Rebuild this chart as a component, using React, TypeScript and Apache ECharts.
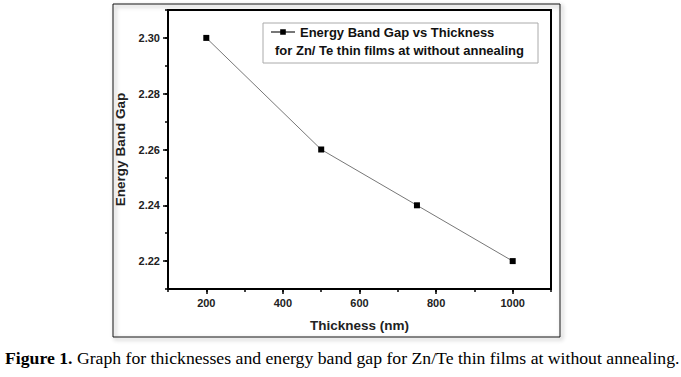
import React, { useEffect, useRef } from "react";
import * as echarts from "echarts";

const thickness = [200, 500, 750, 1000];
const bandGap = [2.3, 2.26, 2.24, 2.22];
const xMajorTicks = [200, 400, 600, 800, 1000];
const yMajorTicks = [2.22, 2.24, 2.26, 2.28, 2.3];
const seriesName = "Energy Band Gap vs Thickness";
const legendLine2 = "for Zn/ Te thin films at without annealing";
const captionBold = "Figure 1.";
const captionRest = " Graph for thicknesses and energy band gap for Zn/Te thin films at without annealing.";

export default function App() {
  const ref = useRef<HTMLDivElement>(null);
  useEffect(() => {
    if (!ref.current) return;
    const chart = echarts.init(ref.current, null, { renderer: "svg" });
    const sans = "Liberation Sans";
    const tickLabelStyle = { fontFamily: sans, fontWeight: "bold", fontSize: 11, color: "#222" };
    chart.setOption({
      animation: false,
      backgroundColor: "#fff",
      grid: { left: 168, right: 130, top: 10, bottom: 88, show: true, borderColor: "#000", borderWidth: 2, backgroundColor: "transparent" },
      legend: {
        left: 270,
        top: 25,
        padding: 0,
        itemWidth: 24,
        itemHeight: 7,
        itemGap: 4,
        data: [seriesName],
        textStyle: { fontFamily: sans, fontWeight: "bold", fontSize: 13, lineHeight: 14, color: "#111" },
      },
      xAxis: [
        {
          type: "value",
          min: 100,
          max: 1100,
          interval: 100,
          name: "Thickness (nm)",
          nameLocation: "middle",
          nameGap: 29,
          nameTextStyle: { fontFamily: sans, fontWeight: "bold", fontSize: 13.5, color: "#222" },
          axisLine: { show: true, lineStyle: { color: "#000", width: 2 } },
          axisTick: { show: true, length: 3, lineStyle: { color: "#000", width: 1.5 } },
          axisLabel: {
            ...tickLabelStyle,
            margin: 8,
            formatter: (v: number) => (xMajorTicks.indexOf(Math.round(v)) >= 0 ? String(Math.round(v)) : ""),
          },
          splitLine: { show: false },
        },
        {
          type: "value",
          min: 100,
          max: 1100,
          position: "bottom",
          axisLine: { show: false },
          axisTick: { show: true, length: 5, customValues: xMajorTicks, lineStyle: { color: "#000", width: 1.5 } },
          axisLabel: { show: false },
          splitLine: { show: false },
        },
      ],
      yAxis: [
        {
          type: "value",
          min: 2.21,
          max: 2.31,
          interval: 0.01,
          name: "Energy Band Gap",
          nameLocation: "middle",
          nameGap: 41,
          nameTextStyle: { fontFamily: sans, fontWeight: "bold", fontSize: 13.5, color: "#222" },
          axisLine: { show: true, lineStyle: { color: "#000", width: 2 } },
          axisTick: { show: true, length: 3, lineStyle: { color: "#000", width: 1.5 } },
          axisLabel: {
            ...tickLabelStyle,
            margin: 8,
            formatter: (v: number) => {
              const k = Math.round(v * 100);
              return k % 2 === 0 && k >= 222 && k <= 230 ? (k / 100).toFixed(2) : "";
            },
          },
          splitLine: { show: false },
        },
        {
          type: "value",
          min: 2.21,
          max: 2.31,
          position: "left",
          axisLine: { show: false },
          axisTick: { show: true, length: 5, customValues: yMajorTicks, lineStyle: { color: "#000", width: 1.5 } },
          axisLabel: { show: false },
          splitLine: { show: false },
        },
      ],
      series: [
        {
          name: seriesName,
          type: "line",
          data: thickness.map((x, i) => [x, bandGap[i]]),
          symbol: "rect",
          symbolSize: 6,
          itemStyle: { color: "#000" },
          lineStyle: { color: "#777", width: 1 },
        },
      ],
      graphic: [
        {
          type: "rect",
          z: -10,
          shape: { x: 113, y: 4, width: 447, height: 333 },
          style: { fill: "none", stroke: "#111", lineWidth: 1, shadowBlur: 4, shadowOffsetX: 2, shadowOffsetY: 2, shadowColor: "rgba(0,0,0,0.45)" },
        },
        {
          type: "rect",
          shape: { x: 263, y: 23, width: 275, height: 40 },
          style: { fill: "none", stroke: "#aaa", lineWidth: 1 },
        },
        {
          type: "text",
          x: 275,
          y: 50,
          style: { text: legendLine2, fontFamily: sans, fontWeight: "bold", fontSize: 13, lineHeight: 14, fill: "#111", verticalAlign: "middle" },
        },
        {
          type: "text",
          x: 5,
          y: 358,
          style: {
            text: `{b|${captionBold}}{n|${captionRest}}`,
            verticalAlign: "middle",
            rich: {
              b: { fontFamily: "Liberation Serif", fontWeight: "bold", fontSize: 17.7, fill: "#000" },
              n: { fontFamily: "Liberation Serif", fontSize: 17.7, fill: "#000" },
            },
          },
        },
      ],
    });
    return () => chart.dispose();
  }, []);
  return <div ref={ref} style={{ position: "absolute", left: 0, top: 0, width: 681, height: 377 }} />;
}
